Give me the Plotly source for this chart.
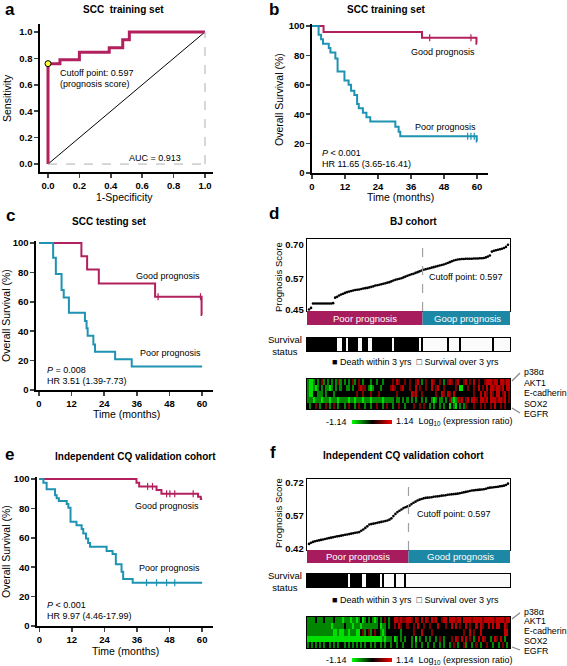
import plotly.graph_objects as go

W, H = 567, 666
FONT = "Arial, Liberation Sans, sans-serif"
MAG = "#B3205E"
TEAL = "#1E93B2"
BAND_POOR = "#A61C5C"
BAND_GOOD = "#1C88A6"

# ---------------- data ----------------
# a: ROC curve
roc_fpr = [0, 0, 0.076, 0.2, 0.39, 0.476, 0.518, 1.0]
roc_tpr = [0, 0.76, 0.79, 0.846, 0.88, 0.94, 1.0, 1.0]
roc_cut_fpr = [0]
roc_cut_tpr = [0.76]
diag = [0, 1]

# b: SCC training set KM
b_good_t = [0, 4.2, 40.0, 59.8, 60]
b_good_s = [100, 96, 92, 88, 88]
b_good_cens = [42.8, 57.8]
b_poor_t = [0, 2.4, 3.3, 4.0, 6.1, 6.7, 8.5, 9.3, 11.8, 13.3, 14.2, 15.4, 16.4, 17.0,
            18.5, 19.8, 21.2, 30.3, 31.5, 32.1, 59.9, 60]
b_poor_s = [100, 94, 91, 88, 85, 82, 78, 69, 63, 60, 56, 53, 47, 44,
            41, 38, 35, 31.5, 28, 25, 21.5, 21.5]
b_poor_cens = [56.6, 57.8, 59.0]

# c: SCC testing set KM
c_good_t = [0, 15.6, 17.7, 22.0, 42.7, 59.8, 60]
c_good_s = [100, 91, 82, 72.5, 63.5, 51, 51]
c_good_cens = [43.8, 59.4]
c_poor_t = [0, 5.2, 6.2, 8.3, 9.1, 11.0, 16.9, 17.5, 17.9, 20.0, 20.6, 28.0, 34.1, 60]
c_poor_s = [100, 90, 79, 68, 63, 52.5, 47, 42, 37, 31, 26, 21, 16, 16]
c_poor_cens = []

# e: CQ validation KM
e_good_t = [0, 35.8, 36.8, 43.2, 45.0, 58.5, 59.5, 60]
e_good_s = [100, 97.5, 95, 92.5, 90, 88, 86.5, 86.5]
e_good_cens = [39.9, 41.7, 46.9, 48.1, 49.9, 56.7]
e_poor_t = [0, 1.5, 2.7, 5.8, 6.4, 7.2, 10.1, 10.7, 11.5, 13.7, 15.6, 16.2, 17.2, 18.0,
            18.7, 24.8, 27.0, 28.2, 30.3, 30.9, 34.4, 60]
e_poor_s = [100, 97.5, 93, 89, 87, 85, 83, 80.5, 71, 68.5, 66, 63, 59.5, 56.5,
            54, 51, 49, 42, 37, 32, 29.5, 29.5]
e_poor_cens = [39.5, 43.2, 46.9, 49.9]

km_ticks = [0, 12, 24, 36, 48, 60]
surv_ticks = [0, 20, 40, 60, 80, 100]

# d: BJ cohort prognosis scores (sorted), survival status, expression
d_scores = [0.452, 0.458, 0.475, 0.475, 0.475, 0.475, 0.475, 0.475, 0.475, 0.475,
            0.475, 0.475, 0.476, 0.497, 0.500, 0.505, 0.509, 0.512, 0.515, 0.518,
            0.520, 0.522, 0.524, 0.526, 0.527, 0.528, 0.530, 0.532, 0.533, 0.534,
            0.536, 0.538, 0.540, 0.543, 0.544, 0.546, 0.548, 0.550, 0.552, 0.554,
            0.556, 0.559, 0.562, 0.565, 0.567, 0.569, 0.571, 0.574, 0.577, 0.580,
            0.583, 0.586, 0.588, 0.591, 0.594, 0.597, 0.600, 0.603, 0.605, 0.607,
            0.609, 0.611, 0.613, 0.615, 0.617, 0.619, 0.621, 0.623, 0.626, 0.629,
            0.632, 0.635, 0.638, 0.640, 0.642, 0.643, 0.644, 0.644, 0.645, 0.645,
            0.645, 0.645, 0.646, 0.646, 0.646, 0.647, 0.647, 0.648, 0.650, 0.653,
            0.657, 0.672, 0.675, 0.677, 0.679, 0.681, 0.683, 0.686, 0.690, 0.698]
d_status = ("111111111111111" "00" "11" "0" "11111" "00" "111" "00" "1111111111" "0"
            "111111111111" "0" "1" "0" "00000000000" "1" "00000" "1" "000000000000000"
            "1" "00000000")
d_split = 56.5
d_ticks = [0.45, 0.57, 0.70]
d_ticktext = ["0.45", "0.57", "0.70"]

genes = ["p38\u03b1", "AKT1", "E-cadherin", "SOX2", "EGFR"]
level = {"G": -1.0, "g": -0.6, "k": 0.0, "r": 0.55, "R": 0.85}

d_expr_rows = [
    ["gGGgkgkrgk", "gkgkgrgkgk", "gkrgkrkgkk", "kgkkgkkgkk", "kkrkRrkkrk",
     "rkkrRkgkrk", "kRrkkrkgkr", "RrkrRkkrRk", "rkRkrkkrRR", "RrRRkRRrRR"],
    ["gGGgGgkgkg", "gGgkgkgkkg", "gkgkkrRrrk", "gGgkkkgkkk", "krRrkkrRkk",
     "rkkRkrkkrk", "kRkrRkkrkk", "kkkrkGGkkr", "kkrkRkrkRk", "RRrRRrRkRR"],
    ["gGGkkgggkg", "kkkgkkkkkk", "kkkkrkkrkk", "krkkkrkkkk", "kkkkrkkkkk",
     "kRrRkkrkkk", "kkkrkkRrkR", "rkRkkkkkkk", "kkrkkRkRrk", "RrkRRkrRkr"],
    ["gggGgggGgg", "gGgggGgggg", "GggGgggGgg", "gGgggggGgg", "gggkggkgkg",
     "kgkgkkgkgk", "kgGgkggkgk", "rgGgRrRkrR", "kRRrkRRrRk", "RRRrRRrRkr"],
    ["kgkkrkgkkr", "kgkrkgkkgk", "rkkgkrkkgk", "kgkkrkkgkr", "kkgkkrkkgk",
     "kkrkkrkrkk", "gkgkkgkgkk", "GkgGkgkgrk", "kkrkkrkrkk", "rkRkkrkrkk"],
]

# f: CQ validation cohort
f_scores = [0.443, 0.448, 0.452, 0.455, 0.457, 0.459, 0.461, 0.463, 0.465, 0.467,
            0.469, 0.471, 0.473, 0.475, 0.477, 0.478, 0.480, 0.482, 0.484, 0.485,
            0.487, 0.489, 0.491, 0.493, 0.494, 0.496, 0.502, 0.508, 0.515, 0.522,
            0.530, 0.532, 0.534, 0.536, 0.538, 0.540, 0.542, 0.544, 0.546, 0.548,
            0.552, 0.558, 0.568, 0.578, 0.586, 0.592, 0.598, 0.604, 0.608, 0.612,
            0.615, 0.622, 0.628, 0.633, 0.638, 0.642, 0.645, 0.648, 0.650, 0.651,
            0.652, 0.653, 0.655, 0.656, 0.657, 0.658, 0.660, 0.661, 0.662, 0.664,
            0.665, 0.666, 0.667, 0.668, 0.669, 0.671, 0.673, 0.675, 0.677, 0.679,
            0.681, 0.683, 0.684, 0.685, 0.686, 0.687, 0.688, 0.689, 0.691, 0.694,
            0.696, 0.697, 0.698, 0.699, 0.700, 0.702, 0.703, 0.705, 0.708, 0.714]
f_status = ("11111111111111111111" "0" "111111" "00" "1111111" "0" "1" "00000" "1"
            "0000" "1" + "0" * 51)
f_split = 49.5
f_ticks = [0.42, 0.57, 0.72]
f_ticktext = ["0.42", "0.57", "0.72"]

f_expr_rows = [
    ["ggggkgggkg", "gggkgggGgg", "gGggGgkGgk", "gkgGgkgkrk", "gkkRRrRrrR",
     "RrkRrkRkRr", "kRrRkkrRRk", "RRRrRRkRRR", "RrRRRRrRRR", "RRrRRRRrRR"],
    ["gggggggggg", "ggGgggggkg", "ggGgggGggg", "gggggkGggk", "gkkrkRrkkr",
     "kkrkRkkrkk", "rkkkRkkkrk", "kRkRkrkkRk", "rkkRkRrkkR", "kRkRRkkRrk"],
    ["gggggggggg", "gggGGgGGgg", "GgggGGkrgk", "rgkrkkgGgk", "kkkkkkgkkk",
     "kkrkkkRkkk", "krkkkkkkkk", "kkkkkkkrkk", "RkrkkRkkkk", "kkkkkkkRRk"],
    ["GGGGGGGGGG", "GGGGGGGGGG", "GGGGGGGGGG", "GGGGGGGgGg", "ggkGgkgkgk",
     "kgkGkgkkgk", "gkkgkrkgkk", "krkRrkRkRk", "rkgkRkRrkk", "gkRrkRkgkk"],
    ["gkgkgkgkgk", "kgkgkgkkgk", "gkgkgkgkgk", "kgkgkkgkgk", "kgkkgkkgkk",
     "kgkgkkgkkg", "kkgkkgkgkk", "gkrkgkkrgk", "kgkrkgkkrk", "kgkkgkrkgk"],
]

# ---------------- helpers ----------------
def px(x):
    return x / W


def py(y):
    return 1 - y / H


def dx(x0, x1):
    return [px(x0), px(x1)]


def dy(y0, y1):
    return [py(y1), py(y0)]


def step_val(ts, ss, t):
    v = ss[0]
    for ti, si in zip(ts, ss):
        if ti <= t:
            v = si
    return v


def decode(rows):
    out = []
    for chunks in rows:
        s = "".join(chunks)
        s = (s + "k" * 100)[:100]
        out.append([level[c] for c in s])
    return out


fig = go.Figure()
annots = []
shapes = []


def ann(text, x, y, size=9, bold=False, xanchor="center", color="black", angle=0):
    t = f"<b>{text}</b>" if bold else text
    annots.append(dict(text=t, x=px(x), y=py(y), xref="paper", yref="paper",
                       xanchor=xanchor, yanchor="middle", showarrow=False, textangle=angle,
                       font=dict(family=FONT, size=size, color=color)))


TICKFONT = dict(family=FONT, size=9.5, color="black", weight="bold")

layout_axes = {}


def km_axis(n, xd, yd, xr, yr, xt, yt, xtt=None, ytt=None):
    xs = "xaxis" if n == 1 else f"xaxis{n}"
    ys = "yaxis" if n == 1 else f"yaxis{n}"
    xa = "y" if n == 1 else f"y{n}"
    ya = "x" if n == 1 else f"x{n}"
    xd_ = dict(domain=xd, range=xr, anchor=xa, showline=True, linecolor="black",
               linewidth=1.6, ticks="outside", ticklen=4, tickwidth=1.5,
               tickvals=xt, tickfont=TICKFONT, showgrid=False,
               zeroline=False, fixedrange=True, automargin=False)
    yd_ = dict(domain=yd, range=yr, anchor=ya, showline=True, linecolor="black",
               linewidth=1.6, ticks="outside", ticklen=4, tickwidth=1.5,
               tickvals=yt, tickfont=TICKFONT, showgrid=False,
               zeroline=False, fixedrange=True, automargin=False)
    if xtt:
        xd_["ticktext"] = xtt
    if ytt:
        yd_["ticktext"] = ytt
    layout_axes[xs] = xd_
    layout_axes[ys] = yd_


def box_axis(n, xd, yd, xr, yr, yt=None, ytt=None, reverse=False, lw=1.4):
    xs = f"xaxis{n}"
    ys = f"yaxis{n}"
    layout_axes[xs] = dict(domain=xd, range=xr, anchor=f"y{n}", showline=True, mirror=True,
                           linecolor="black", linewidth=lw, ticks="", showticklabels=False,
                           showgrid=False, zeroline=False, fixedrange=True, automargin=False)
    yd_ = dict(domain=yd, anchor=f"x{n}", showline=True, mirror=True,
               linecolor="black", linewidth=lw, ticks="", showgrid=False, zeroline=False,
               fixedrange=True, automargin=False)
    if yr is not None:
        yd_["range"] = yr
    if yt is not None:
        yd_.update(tickvals=yt, ticktext=ytt, tickfont=TICKFONT, showticklabels=True)
    else:
        yd_["showticklabels"] = False
    if reverse:
        yd_["autorange"] = "reversed"
    layout_axes[ys] = yd_


# ---------------- panel a ----------------
km_axis(1, dx(40, 213), dy(24, 172), [-0.051, 1.051], [-0.06, 1.06],
        [0, 0.2, 0.4, 0.6, 0.8, 1.0], [0, 0.2, 0.4, 0.6, 0.8, 1.0],
        ["0.0", "0.2", "0.4", "0.6", "0.8", "1.0"], ["0.0", "0.2", "0.4", "0.6", "0.8", "1.0"])
shapes.append(dict(type="line", xref="x", yref="y", x0=0, y0=0, x1=1, y1=0,
                   line=dict(color="#b0b0b0", width=1, dash="dash")))
shapes.append(dict(type="line", xref="x", yref="y", x0=1, y0=0, x1=1, y1=1,
                   line=dict(color="#b0b0b0", width=1, dash="dash")))
fig.add_trace(go.Scatter(x=diag, y=diag, mode="lines", line=dict(color="black", width=1),
                         xaxis="x", yaxis="y", showlegend=False))
fig.add_trace(go.Scatter(x=roc_fpr, y=roc_tpr, mode="lines", line=dict(color=MAG, width=3, shape="hv"),
                         xaxis="x", yaxis="y", showlegend=False, cliponaxis=False))
fig.add_trace(go.Scatter(x=roc_cut_fpr, y=roc_cut_tpr, mode="markers",
                         marker=dict(color="#ffff33", size=6, line=dict(color="black", width=1)),
                         xaxis="x", yaxis="y", showlegend=False, cliponaxis=False))
ann("SCC  training set", 123, 9.5, size=10, bold=True)
ann("Sensitivity", 7, 98, size=10.5, angle=-90)
ann("1-Specificity", 124, 197, size=10.5)
ann("Cutoff point: 0.597", 58, 73, xanchor="left")
ann("(prognosis score)", 58, 84, xanchor="left")
ann("AUC = 0.913", 183, 158, xanchor="right")


# ---------------- KM panels ----------------
def km_traces(n, gt, gs, gc, pt, ps, pc):
    xa = f"x{n}"
    ya = f"y{n}"
    for t, s, c, col in ((gt, gs, gc, MAG), (pt, ps, pc, TEAL)):
        fig.add_trace(go.Scatter(x=t, y=s, mode="lines", line=dict(color=col, width=2, shape="hv"),
                                 xaxis=xa, yaxis=ya, showlegend=False, cliponaxis=False))
        if c:
            fig.add_trace(go.Scatter(x=c, y=[step_val(t, s, ci) for ci in c], mode="markers",
                                     marker=dict(symbol="line-ns", size=5,
                                                 line=dict(color=col, width=1.2)),
                                     xaxis=xa, yaxis=ya, showlegend=False, cliponaxis=False))


# b
km_axis(2, dx(312, 488), dy(24, 173), [0, 64], [0, 101.4], km_ticks, surv_ticks)
km_traces(2, b_good_t, b_good_s, b_good_cens, b_poor_t, b_poor_s, b_poor_cens)
ann("SCC training set", 386, 9.5, size=10, bold=True)
ann("Overall Survival (%)", 279, 100, size=10.5, angle=-90)
ann("Time (months)", 400, 197, size=10.5)
ann("Good prognosis", 443, 52)
ann("Poor prognosis", 445, 127)
ann("<i>P</i> &lt; 0.001", 320, 153, xanchor="left")
ann("HR 11.65 (3.65-16.41)", 320, 164, xanchor="left")

# c
km_axis(3, dx(36, 213), dy(241, 390), [-1.1, 64], [0, 101.4], km_ticks, surv_ticks)
km_traces(3, c_good_t, c_good_s, c_good_cens, c_poor_t, c_poor_s, c_poor_cens)
ann("SCC testing set", 109, 221, size=10, bold=True)
ann("Overall Survival (%)", 6, 316, size=10.5, angle=-90)
ann("Time (months)", 126, 414, size=10.5)
ann("Good prognosis", 168, 276)
ann("Poor prognosis", 170, 353)
ann("<i>P</i> = 0.008", 45, 370, xanchor="left")
ann("HR 3.51 (1.39-7.73)", 45, 381, xanchor="left")

# e
km_axis(4, dx(37, 213), dy(477, 626), [-0.85, 64], [0, 101.4], km_ticks, surv_ticks)
km_traces(4, e_good_t, e_good_s, e_good_cens, e_poor_t, e_poor_s, e_poor_cens)
ann("Independent CQ validation cohort", 135, 456, size=10, bold=True)
ann("Overall Survival (%)", 6, 552, size=10.5, angle=-90)
ann("Time (months)", 125, 651, size=10.5)
ann("Good prognosis", 167, 506)
ann("Poor prognosis", 169, 568)
ann("<i>P</i> &lt; 0.001", 45, 605, xanchor="left")
ann("HR 9.97 (4.46-17.99)", 45, 616, xanchor="left")


# ---------------- score panels d / f ----------------
def score_panel(n0, scores, status, expr_rows, split, yr, yt, ytt,
                box_y, band_y, stat_y, leg_y, heat_y, gene_ys, cb_y, cut_x_px, cut_y_px,
                band_labels, band_lab_x, ylab_y, stat_lab_y, show_title, title_x, title_y):
    idx = list(range(len(scores)))
    # score box
    box_axis(n0, dx(307, 510), dy(*box_y), [-1, 100], yr, yt, ytt)
    fig.add_trace(go.Scatter(x=idx, y=scores, mode="markers",
                             marker=dict(color="black", size=2.6),
                             xaxis=f"x{n0}", yaxis=f"y{n0}", showlegend=False))
    shapes.append(dict(type="line", xref=f"x{n0}", yref=f"y{n0} domain", x0=split, x1=split,
                       y0=0, y1=1, line=dict(color="#a0a0a0", width=1.2, dash="dash")))
    # prognosis band
    xsplit_px = 307 + (split + 1) / 101 * (510 - 307)
    shapes.append(dict(type="rect", xref="paper", yref="paper", x0=px(307), x1=px(xsplit_px),
                       y0=py(band_y[1]), y1=py(band_y[0]), fillcolor=BAND_POOR, line=dict(width=0)))
    shapes.append(dict(type="rect", xref="paper", yref="paper", x0=px(xsplit_px), x1=px(510),
                       y0=py(band_y[1]), y1=py(band_y[0]), fillcolor=BAND_GOOD, line=dict(width=0)))
    mid = (band_y[0] + band_y[1]) / 2
    ann(band_labels[0], band_lab_x[0], mid, size=9.5, color="white")
    ann(band_labels[1], band_lab_x[1], mid, size=9.5, color="white")
    ann("Cutoff point: 0.597", cut_x_px, cut_y_px, xanchor="left")
    ann("Prognosis Score", 278, ylab_y, size=9.5, angle=-90)
    ann(show_title, title_x, title_y, size=10, bold=True)
    # survival status
    n1 = n0 + 1
    box_axis(n1, dx(307, 510), dy(*stat_y), [-0.5, 99.5], None)
    fig.add_trace(go.Heatmap(z=[[int(c) for c in status]], x=idx,
                             colorscale=[[0, "#fbfbfb"], [1, "#000000"]], zmin=0, zmax=1,
                             showscale=False, xaxis=f"x{n1}", yaxis=f"y{n1}", hoverinfo="skip"))
    ann("Survival<br>status", 285, stat_lab_y, size=9.5)
    ann("\u25a0 Death within 3 yrs  \u25a1 Survival over 3 yrs", 415, leg_y, size=9)
    # expression heatmap
    n2 = n0 + 2
    box_axis(n2, dx(307, 510), dy(*heat_y), [-0.5, 99.5], None, reverse=True, lw=1.2)
    fig.add_trace(go.Heatmap(z=decode(expr_rows), x=idx, y=genes,
                             colorscale=[[0, "#00ff00"], [0.5, "#000000"], [1, "#ff0000"]],
                             zmin=-1.14, zmax=1.14, xaxis=f"x{n2}", yaxis=f"y{n2}",
                             hoverinfo="skip",
                             colorbar=dict(orientation="h", x=px(372), xanchor="center",
                                           y=py(cb_y), yanchor="middle", len=40, lenmode="pixels",
                                           thickness=4, thicknessmode="pixels",
                                           showticklabels=False, ticks="", outlinewidth=0,
                                           xpad=0, ypad=0)))
    for g, gy in zip(genes, gene_ys):
        ann(g, 522, gy, size=8.8, xanchor="left")
    shapes.append(dict(type="line", xref="paper", yref="paper", x0=px(512), y0=py(heat_y[0] + 2),
                       x1=px(520), y1=py(gene_ys[0] + 1), line=dict(color="#888888", width=1.2)))
    shapes.append(dict(type="line", xref="paper", yref="paper", x0=px(512), y0=py(heat_y[1] - 1),
                       x1=px(520), y1=py(gene_ys[-1] - 1), line=dict(color="#888888", width=1.2)))
    ann("-1.14", 349, cb_y, size=9, xanchor="right")
    ann("1.14  Log<sub>10</sub> (expression ratio)", 394, cb_y, size=9, xanchor="left")


score_panel(5, d_scores, d_status, d_expr_rows, d_split, [0.4462, 0.720], d_ticks, d_ticktext,
            (239, 311), (311, 325), (338, 351), 361.5, (379, 409),
            [372, 382.5, 392.5, 403.5, 414], 421.7, 427, 277,
            ("Poor prognosis", "Goop prognosis"), (365, 467), 277, 345,
            "BJ cohort", 413, 221)
score_panel(8, f_scores, f_status, f_expr_rows, f_split, [0.4155, 0.735], f_ticks, f_ticktext,
            (479, 550), (550, 563), (574, 587), 599.5, (617, 648),
            [611.7, 621, 631, 641, 651], 660, 415, 514,
            ("Poor prognosis", "Good prognosis"), (358, 460), 513, 581,
            "Independent CQ validation cohort", 403, 455)

# panel letters
for letter, lx, ly in (("a", 10, 10), ("b", 274, 10), ("c", 10, 215), ("d", 274, 214),
                       ("e", 9, 454), ("f", 273, 452)):
    ann(letter, lx, ly, size=17, bold=True)

fig.update_layout(width=W, height=H,
                  margin=dict(l=0, r=0, t=0, b=0, pad=0, autoexpand=False),
                  paper_bgcolor="white", plot_bgcolor="white", showlegend=False,
                  font=dict(family=FONT, color="black"),
                  annotations=annots, shapes=shapes, **layout_axes)
fig.write_html("out.html", config={"displayModeBar": False, "staticPlot": True},
               post_script="document.body.style.margin='0';document.body.style.padding='0';"
                           "document.body.style.overflow='hidden';")
